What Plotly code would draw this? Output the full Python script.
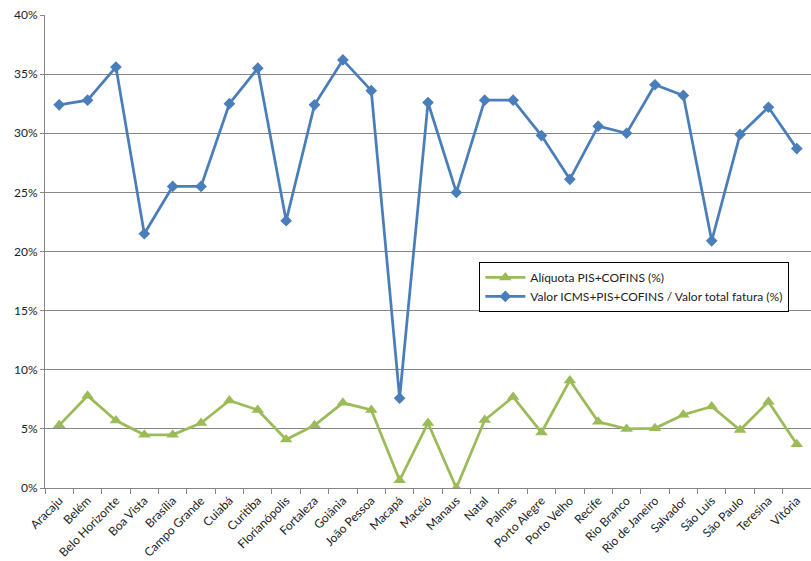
import plotly.graph_objects as go

cities = ["Aracaju", "Belém", "Belo Horizonte", "Boa Vista", "Brasília", "Campo Grande",
          "Cuiabá", "Curitiba", "Florianópolis", "Fortaleza", "Goiânia", "João Pessoa",
          "Macapá", "Maceió", "Manaus", "Natal", "Palmas", "Porto Alegre", "Porto Velho",
          "Recife", "Rio Branco", "Rio de Janeiro", "Salvador", "São Luís", "São Paulo",
          "Teresina", "Vitória"]

aliquota = [5.3, 7.8, 5.7, 4.5, 4.5, 5.5, 7.4, 6.6, 4.1, 5.3, 7.2, 6.6, 0.65, 5.5, 0.0,
            5.75, 7.7, 4.7, 9.1, 5.6, 5.0, 5.05, 6.2, 6.9, 4.9, 7.3, 3.7]

valor = [32.4, 32.8, 35.6, 21.5, 25.5, 25.5, 32.5, 35.5, 22.6, 32.4, 36.2, 33.6, 7.6, 32.6,
         25.0, 32.8, 32.8, 29.8, 26.1, 30.6, 30.0, 34.1, 33.2, 20.9, 29.9, 32.2, 28.7]

yticks = [0, 5, 10, 15, 20, 25, 30, 35, 40]
ytick_text = ["0%", "5%", "10%", "15%", "20%", "25%", "30%", "35%", "40%"]

fig = go.Figure()
fig.add_trace(go.Scatter(
    x=cities, y=aliquota, mode="lines+markers", name="Alíquota PIS+COFINS (%)",
    line=dict(color="#9BBB59", width=2.75),
    marker=dict(symbol="triangle-up", size=11, color="#9BBB59"),
))
fig.add_trace(go.Scatter(
    x=cities, y=valor, mode="lines+markers",
    name="Valor ICMS+PIS+COFINS / Valor total fatura (%)",
    line=dict(color="#4A7EBB", width=2.75),
    marker=dict(symbol="diamond", size=9, color="#4A7EBB"),
))

fig.update_layout(
    width=811, height=561,
    margin=dict(l=45, r=0, t=15, b=73),
    paper_bgcolor="white", plot_bgcolor="white",
    font=dict(family="Lato, Carlito, Arial", size=12, color="#222222"),
    showlegend=True,
    legend=dict(
        x=0.567, y=0.478, xanchor="left", yanchor="top",
        bordercolor="black", borderwidth=1, bgcolor="white",
        font=dict(size=12), tracegroupgap=0, itemwidth=40,
        entrywidth=290, entrywidthmode="pixels",
    ),
    xaxis=dict(
        type="category", tickangle=-45, showgrid=False,
        showline=True, linecolor="#868686", linewidth=1,
        ticks="outside", tickson="boundaries", ticklen=5, tickcolor="#868686",
        range=[-0.5, len(cities) - 0.5],
    ),
    yaxis=dict(
        range=[0, 40], tickvals=yticks, ticktext=ytick_text,
        showgrid=True, gridcolor="#868686", gridwidth=1,
        showline=True, linecolor="#868686", linewidth=1,
        ticks="outside", ticklen=4, tickcolor="#868686",
        zeroline=False,
    ),
)

fig.write_html("out.html")
